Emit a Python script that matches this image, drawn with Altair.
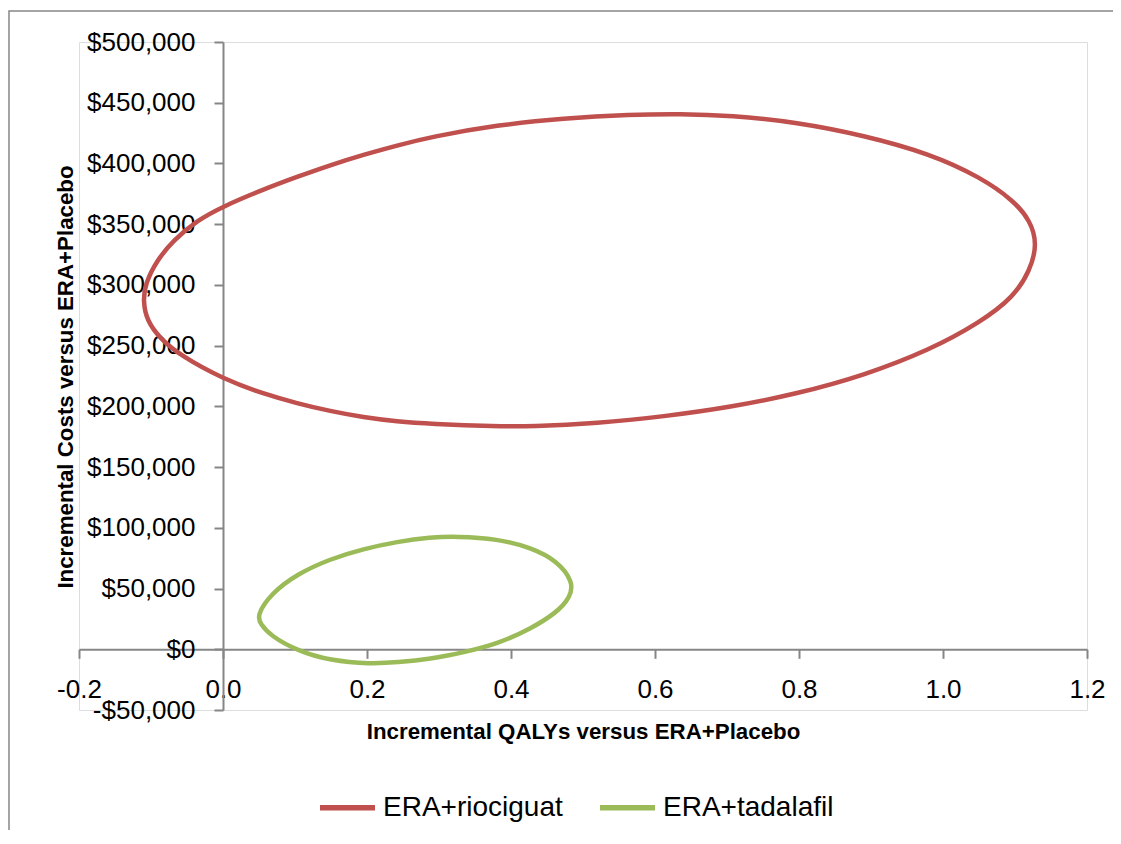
import altair as alt
import pandas as pd

# ---- data ----
series_names = ["ERA+riociguat", "ERA+tadalafil"]
series_colors = ["#C0504D", "#9BBB59"]

rio_qaly = [-0.111, -0.108, -0.092, -0.069, -0.036, 0.000, 0.056, 0.103, 0.149, 0.195,
            0.242, 0.288, 0.381, 0.473, 0.566, 0.635, 0.705, 0.797, 0.890, 0.982,
            1.052, 1.098, 1.121, 1.131, 1.121, 1.098, 1.052, 0.982, 0.890, 0.797,
            0.705, 0.612, 0.520, 0.427, 0.381, 0.288, 0.242, 0.195, 0.149, 0.103,
            0.056, 0.000, -0.059, -0.087, -0.106]
rio_cost = [287100, 300900, 320100, 336600, 353100, 364600, 378600, 389000, 398600, 407200,
            414800, 421800, 431700, 437200, 440200, 440800, 439500, 434000, 423100, 408000,
            388700, 369500, 353100, 333800, 311900, 289900, 269300, 246500, 225400, 210300,
            199300, 191600, 186100, 183400, 183400, 185600, 187500, 191000, 196000, 202500,
            210300, 222600, 241800, 255600, 270700]

tad_qaly = [0.047, 0.066, 0.103, 0.149, 0.195, 0.242, 0.288, 0.325, 0.381, 0.427,
            0.464, 0.487, 0.482, 0.464, 0.427, 0.381, 0.334, 0.288, 0.242, 0.205,
            0.149, 0.103, 0.066, 0.052]
tad_cost = [27700, 45500, 62000, 74400, 82600, 88600, 92200, 93000, 90900, 83900,
            73000, 55100, 42700, 30400, 16700, 4400, -2600, -8000, -10800, -12100,
            -9400, -1200, 11200, 20800]

x_ticks = [-0.2, 0.0, 0.2, 0.4, 0.6, 0.8, 1.0, 1.2]
y_ticks = [-50000, 0, 50000, 100000, 150000, 200000, 250000, 300000, 350000, 400000, 450000, 500000]

x_title = "Incremental QALYs versus ERA+Placebo"
y_title = "Incremental Costs versus ERA+Placebo"

rows = []
for i, (q, c) in enumerate(zip(rio_qaly, rio_cost)):
    rows.append({"series": series_names[0], "qaly": q, "cost": c, "idx": i})
for i, (q, c) in enumerate(zip(tad_qaly, tad_cost)):
    rows.append({"series": series_names[1], "qaly": q, "cost": c, "idx": i})
df = pd.DataFrame(rows)

AXIS_GRAY = "#868686"
FONT = "Liberation Sans"

W, H = 1008, 668

x_axis = alt.Axis(
    values=x_ticks, title=x_title, offset=-60.7, grid=False,
    labelExpr="datum.value < 0 ? '-' + format(-datum.value, '.1f') : format(datum.value, '.1f')",
    labelFont=FONT, labelFontSize=26, labelColor="#000000", labelPadding=18,
    labelFlush=False, labelOverlap=False,
    domainColor=AXIS_GRAY, domainWidth=2, tickColor=AXIS_GRAY, tickWidth=2, tickSize=9,
    titleFont=FONT, titleFontSize=22.3, titleFontWeight="bold", titleColor="#000000",
    titleX=W / 2, titleY=89, titleAlign="center", titleBaseline="alphabetic",
)

y_axis = alt.Axis(
    values=y_ticks, title=y_title, offset=-144, grid=False,
    labelExpr="datum.value < 0 ? '-$' + format(-datum.value, ',') : '$' + format(datum.value, ',')",
    labelFont=FONT, labelFontSize=26, labelColor="#000000", labelPadding=19,
    labelOverlap=False,
    domainColor=AXIS_GRAY, domainWidth=2, tickColor=AXIS_GRAY, tickWidth=2, tickSize=9,
    titleFont=FONT, titleFontSize=22.3, titleFontWeight="bold", titleColor="#000000",
    titleX=-150.7, titleY=334.5, titleAngle=270, titleAlign="center", titleBaseline="alphabetic",
)

lines = alt.Chart(df).mark_line(
    interpolate="basis-closed", strokeWidth=4.5, clip=False
).encode(
    x=alt.X("qaly:Q", scale=alt.Scale(domain=[-0.2, 1.2], nice=False, zero=False), axis=x_axis),
    y=alt.Y("cost:Q", scale=alt.Scale(domain=[-50000, 500000], nice=False, zero=False), axis=y_axis),
    order=alt.Order("idx:Q"),
    color=alt.Color(
        "series:N",
        scale=alt.Scale(domain=series_names, range=series_colors),
        legend=alt.Legend(
            orient="none", legendX=238, legendY=735, direction="horizontal", title=None,
            symbolType="stroke", symbolSize=3025, symbolStrokeWidth=5.5,
            labelFont=FONT, labelFontSize=28, labelColor="#000000", labelOffset=5,
            columnPadding=26, padding=0, labelLimit=400,
        ),
    ),
)

frame = alt.Chart(alt.Data(values=[{"f": 1}])).mark_rect(
    filled=False, stroke=AXIS_GRAY, strokeWidth=1.5, clip=False
).encode(
    x=alt.value(-70), y=alt.value(-31), x2=alt.value(1400), y2=alt.value(1200)
)

chart = alt.layer(frame, lines).properties(
    width=W, height=H,
    autosize=alt.AutoSizeParams(type="none"),
    padding={"left": 71, "top": 34, "right": 26, "bottom": 120},
).configure_view(stroke=None).configure(background="white")

chart.save("out.html", embed_options={"renderer": "svg", "actions": False})
